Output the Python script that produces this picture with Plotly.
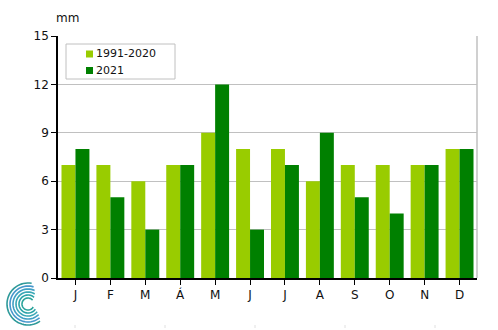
import plotly.graph_objects as go
import numpy as np

months = ["J", "F", "M", "Á", "M", "J", "J", "A", "S", "O", "N", "D"]
normal_1991_2020 = [7, 7, 6, 7, 9, 8, 8, 6, 7, 7, 7, 8]
year_2021 = [8, 5, 3, 7, 12, 3, 7, 9, 5, 4, 7, 8]
series_names = ["1991-2020", "2021"]
series_colors = ["#99CC00", "#008000"]
y_ticks = [0, 3, 6, 9, 12, 15]

W, H = 498, 330
L, R, T, B = 58, 21, 36, 52
PW, PH = W - L - R, H - T - B
x_idx = list(range(len(months)))

fig = go.Figure()
for name, vals, col in zip(series_names, [normal_1991_2020, year_2021], series_colors):
    fig.add_bar(x=x_idx, y=vals, name=name, marker_color=col, marker_line_width=0, showlegend=False)

def px(pxx, pyy):
    return (pxx - L) / PW, (H - B - pyy) / PH

shapes = []
annotations = []

# decorative logo: spiral-like arcs
cx, cy = 28, 304
cols = ["#2aa39a", "#2aa3a8", "#3aa8b6", "#3f9fc4", "#4697cc", "#2f9a9a"]
for i, r in enumerate([6, 9, 12, 15, 18, 21]):
    a0 = np.deg2rad(40 + i * 8)
    a1 = np.deg2rad(330 - i * 5)
    th = np.linspace(a0, a1, 40)
    pts = [px(cx + r * np.cos(t), cy - r * np.sin(t)) for t in th]
    path = "M " + " L ".join(f"{x:.4f},{y:.4f}" for x, y in pts)
    shapes.append(dict(type="path", xref="paper", yref="paper", path=path,
                       line=dict(color=cols[i % len(cols)], width=1.6)))

# right border
shapes.append(dict(type="line", xref="paper", yref="paper", x0=1, x1=1, y0=0, y1=1,
                   line=dict(color="#C0C0C0", width=1.5)))

# faint marks at bottom
for mx in [75, 165, 255, 345, 435]:
    x0, y0 = px(mx, 325)
    x1, y1 = px(mx, 328)
    shapes.append(dict(type="line", xref="paper", yref="paper", x0=x0, x1=x1, y0=y0, y1=y1,
                       line=dict(color="#E0E0E0", width=1)))

# manual legend
bx0, by0 = px(66, 44)
bx1, by1 = px(175, 79)
shapes.append(dict(type="rect", xref="paper", yref="paper", x0=bx0, x1=bx1, y0=by1, y1=by0,
                   line=dict(color="#C0C0C0", width=1), fillcolor="white", layer="above"))
for i, (name, col) in enumerate(zip(series_names, series_colors)):
    yc = 54 + i * 16.5
    sx0, sy0 = px(86, yc - 3.5)
    sx1, sy1 = px(93, yc + 3.5)
    shapes.append(dict(type="rect", xref="paper", yref="paper", x0=sx0, x1=sx1, y0=sy1, y1=sy0,
                       line=dict(width=0), fillcolor=col, layer="above"))
    tx, ty = px(94, yc)
    annotations.append(dict(text=name, xref="paper", yref="paper", x=tx, y=ty,
                            xanchor="left", yanchor="middle", showarrow=False,
                            font=dict(size=11, color="#111111")))

mx_, my_ = px(54, 18)
annotations.append(dict(text="mm", xref="paper", yref="paper", x=mx_, y=my_,
                        xanchor="left", yanchor="middle", showarrow=False,
                        font=dict(size=12, color="#111111")))

fig.update_layout(
    width=W, height=H,
    margin=dict(l=L, r=R, t=T, b=B),
    paper_bgcolor="white", plot_bgcolor="white",
    barmode="group", bargap=0.2, bargroupgap=0,
    font=dict(family="DejaVu Sans", size=12, color="#111111"),
    shapes=shapes,
    annotations=annotations,
    showlegend=False,
    xaxis=dict(tickmode="array", tickvals=x_idx, ticktext=months, range=[-0.5, 11.5],
               showline=True, linecolor="black", linewidth=1.5, ticks="outside",
               tickson="boundaries", ticklen=5, tickcolor="black", showgrid=False,
               zeroline=False),
    yaxis=dict(range=[0, 15], tickvals=y_ticks, showline=True, linecolor="black", linewidth=1.5,
               ticks="outside", ticklen=5, tickcolor="black", gridcolor="#C0C0C0", gridwidth=1,
               zeroline=False),
)

fig.write_html("out.html")
